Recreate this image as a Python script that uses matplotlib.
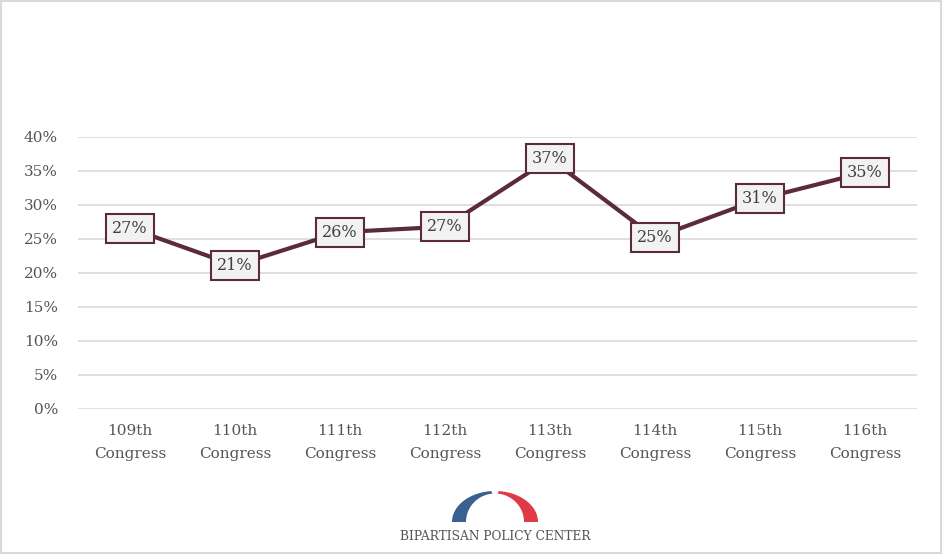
import numpy as np
import matplotlib
matplotlib.use("Agg")
from matplotlib import pyplot as plt
from matplotlib.patches import Rectangle, Polygon

congresses = ["109th", "110th", "111th", "112th", "113th", "114th", "115th", "116th"]
shares = [26.6, 21.1, 26.0, 26.8, 36.8, 25.2, 30.9, 34.8]
share_labels = ["27%", "21%", "26%", "27%", "37%", "25%", "31%", "35%"]
yticks = [0, 5, 10, 15, 20, 25, 30, 35, 40]

line_col = "#5b2a3c"
text_col = "#555555"

plt.rcParams['font.family'] = ['DejaVu Serif']

fig = plt.figure(figsize=(9.44, 5.56), dpi=100)
W, H = 944., 556.

# light frame around the whole chart
fig.patches.append(Rectangle((1 / W, 3 / H), 940 / W, 552 / H, transform=fig.transFigure,
                             fill=False, edgecolor="#d9d9d9", linewidth=1.5))

ax = fig.add_axes([77.5 / W, 1 - 409 / H, 840 / W, 272 / H])
x = np.arange(len(congresses))
ax.plot(x, shares, color=line_col, linewidth=3, solid_joinstyle='miter', zorder=3)
for xi, v, lab in zip(x, shares, share_labels):
  ax.text(xi, v, lab, ha='center', va='center', fontsize=11.5, color="#404040", zorder=4,
          bbox=dict(boxstyle='square,pad=0.38', facecolor='#f2f2f2', edgecolor=line_col, linewidth=1.5))

ax.set_xlim(-0.5, len(congresses) - 0.5)
ax.set_ylim(0, 40)
ax.set_yticks(yticks)
ax.set_yticklabels(["%d%%" % t for t in yticks])
ax.set_xticks(x)
ax.set_xticklabels([c + "\nCongress" for c in congresses], linespacing=1.75)
ax.tick_params(axis='both', length=0, labelsize=11, colors=text_col)
ax.tick_params(axis='y', pad=14)
ax.tick_params(axis='x', pad=11)
ax.grid(axis='y', color='#d9d9d9', linewidth=1.2)
ax.set_axisbelow(True)
for s in ax.spines.values():
  s.set_visible(False)

# logo: two arcs forming a bridge
lg = fig.add_axes([0, 0, 1, 1], facecolor='none')
lg.set_xlim(0, W)
lg.set_ylim(H, 0)
lg.axis('off')
cx, cy = 495., 522.
def arc_piece(t0, t1, color):
  t = np.linspace(np.radians(t0), np.radians(t1), 60)
  outer = np.column_stack([cx + 43 * np.cos(t), cy - 31 * np.sin(t)])
  inner = np.column_stack([cx + 29 * np.cos(t[::-1]), cy - 28.5 * np.sin(t[::-1])])
  lg.add_patch(Polygon(np.vstack([outer, inner]), closed=True, facecolor=color, edgecolor='none'))
arc_piece(180, 95, "#3b5f8f")
arc_piece(85, 0, "#e03a47")
lg.text(cx, 536, "BIPARTISAN POLICY CENTER", ha='center', va='center', fontsize=8.8,
        color="#555555")

fig.savefig("out.png", dpi=100)
